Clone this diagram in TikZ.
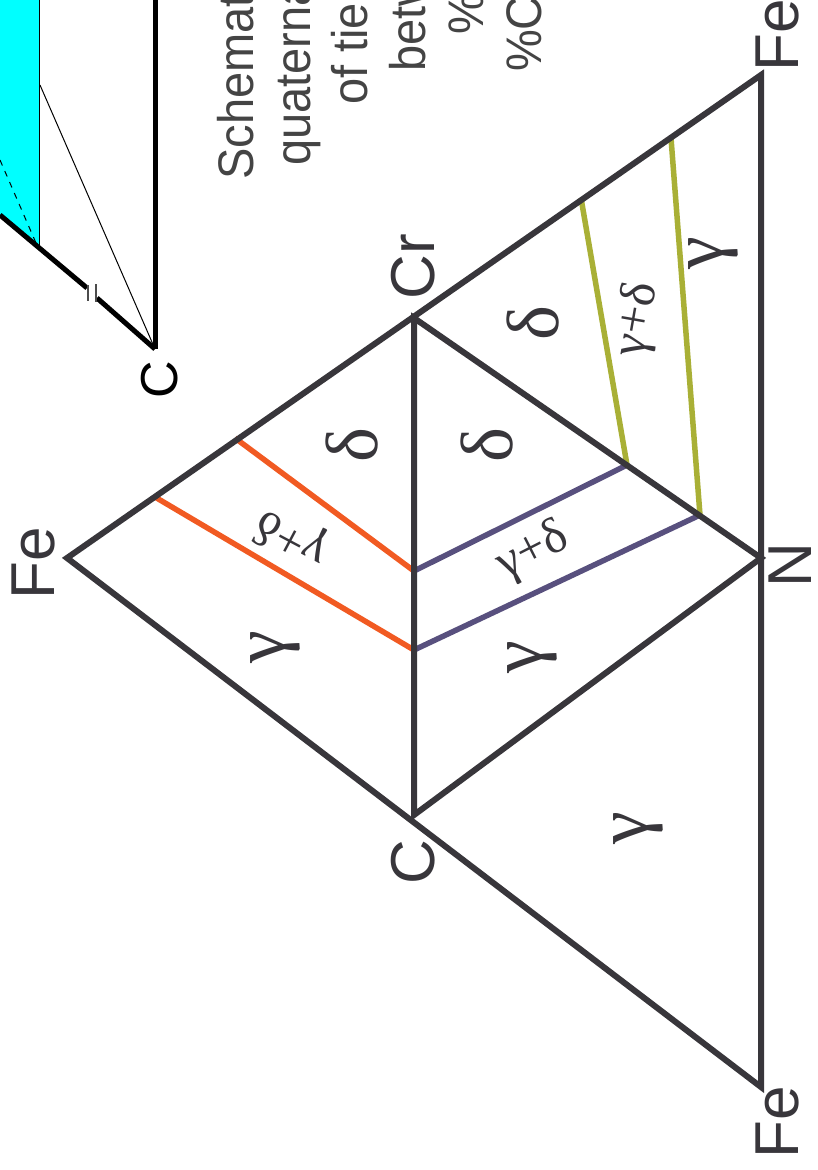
\documentclass[tikz,border=0pt]{standalone}
\usepackage{fontspec}
\setmainfont{Liberation Sans}
\newfontfamily\greekfont{Liberation Serif}
\usepackage{xcolor}
\usetikzlibrary{positioning}
\definecolor{frameink}{HTML}{38363B}
\definecolor{captionink}{HTML}{444444}
\definecolor{tieorange}{HTML}{F15A22}
\definecolor{tiepurple}{HTML}{58507E}
\definecolor{tiegreen}{HTML}{A9B036}
\definecolor{wedgecyan}{HTML}{00FFFF}
\newcommand{\capline}[1]{\scalebox{.94}[1]{#1}}
\begin{document}
\begin{tikzpicture}[
    x=1pt, y=-1pt,
    frame/.style={line width=6pt, draw=frameink, line cap=round},
    tieor/.style={line width=5.5pt, draw=tieorange},
    tiepu/.style={line width=5.5pt, draw=tiepurple},
    tiegr/.style={line width=5.5pt, draw=tiegreen},
    heavy/.style={line width=5pt, draw=black},
    fine/.style={line width=1pt, draw=black},
    corner/.style={rotate=90, text=frameink, font=\fontsize{62}{62}\selectfont},
    phase/.style={rotate=90, text=frameink, font=\greekfont\fontsize{74}{74}\selectfont},
    small/.style={text=frameink, font=\greekfont\fontsize{50}{50}\selectfont},
    caption/.style={rotate=90, anchor=base west, inner sep=0pt, text=captionink,
                    font=\fontsize{50}{50}\selectfont}
  ]
    \useasboundingbox (0,0) rectangle (818,1170);
    \clip (0,0) rectangle (818,1170);
    % cut-off figure at the top left
    \fill[wedgecyan] (0,0) -- (39,0) -- (39,247) -- (0,215) -- cycle;
    \coordinate (cyTop) at (39,0);
    \coordinate (cyBot) at (39,246);
    \coordinate (thinA) at (40,85);
    \coordinate (apex) at (155,349);
    \coordinate (sideTop) at (155,0);
    \coordinate (slopeA) at (0,215);
    \coordinate (slopeB) at (87,288);
    \coordinate (slopeC) at (97,298);
    \coordinate (dashA) at (0,160);
    \coordinate (dashB) at (36,243);
    \draw[fine] (cyTop) -- (cyBot);
    \draw[fine] (thinA) -- (apex);
    \draw[fine, dash pattern=on 6pt off 6pt] (dashA) -- (dashB);
    \draw[heavy] (sideTop) -- (apex);
    \draw[heavy] (slopeA) -- (slopeB);
    \draw[heavy] (slopeC) -- (apex);
    \draw[line width=1.2pt, draw=black!70] (88,285) -- (88,301) (96,284) -- (96,302);
    \node[rotate=90, font=\fontsize{52}{52}\selectfont] (apexC) at (160,380) {C};
    % caption lines
    \node[caption] (capA) at (253,180) {\capline{Schemat}};
    \node[caption] (capB) at (310,166) {\capline{quaterna}};
    \node[caption] (capC) at (367,105) {\capline{of tie}};
    \node[caption] (capD) at (425,72) {\capline{betw}};
    \node[caption] (capE) at (483,35) {\capline{\%o}};
    \node[caption] (capF) at (541,72) {\capline{\%C}};
    % triangle corners
    \coordinate (feL) at (67,558);
    \coordinate (cr) at (414,318);
    \coordinate (cc) at (414,815);
    \coordinate (feT) at (761,75);
    \coordinate (nn) at (761,558);
    \coordinate (feB) at (761,1087);
    \coordinate (orA) at (235,438);
    \coordinate (orB) at (155,497);
    \coordinate (midA) at (414,571);
    \coordinate (midB) at (414,650);
    \coordinate (puA) at (627,465);
    \coordinate (puB) at (700,515);
    \coordinate (grA) at (581,198);
    \coordinate (grB) at (671,138);
    % tie lines
    \draw[tieor] (orA) -- (midA);
    \draw[tieor] (orB) -- (midB);
    \draw[tiepu] (midA) -- (puA);
    \draw[tiepu] (midB) -- (puB);
    \draw[tiegr] (puA) -- (grA);
    \draw[tiegr] (puB) -- (grB);
    % triangles
    \draw[frame] (feL) -- (feT) -- (feB) -- cycle;
    \draw[frame] (cr) -- (nn) -- (cc) -- cycle;
    \node[corner] (labFeL) at (33,563) {Fe};
    \node[corner] (labCr) at (413,267) {Cr};
    \node[corner] (labC) at (413,862) {C};
    \node[corner] (labN) at (790,565) {N};
    \node[corner] (labFeT) at (777,35) {Fe};
    \node[corner] (labFeB) at (777,1122) {Fe};
    % phase labels
    \node[phase] (delA) at (352,445) {δ};
    \node[phase] (delB) at (487,445) {δ};
    \node[phase] (delC) at (533,323) {δ};
    \node[phase] (gamA) at (275,647) {γ};
    \node[phase] (gamB) at (532,657) {γ};
    \node[phase] (gamC) at (638,828) {γ};
    \node[phase] (gamD) at (713,253) {γ};
    \node[small, rotate=152] (mixA) at (292,537) {γ+δ};
    \node[small, rotate=27] (mixB) at (533,552) {γ+δ};
    \node[small, rotate=80] (mixC) at (638,320) {γ+δ};
\end{tikzpicture}
\end{document}
